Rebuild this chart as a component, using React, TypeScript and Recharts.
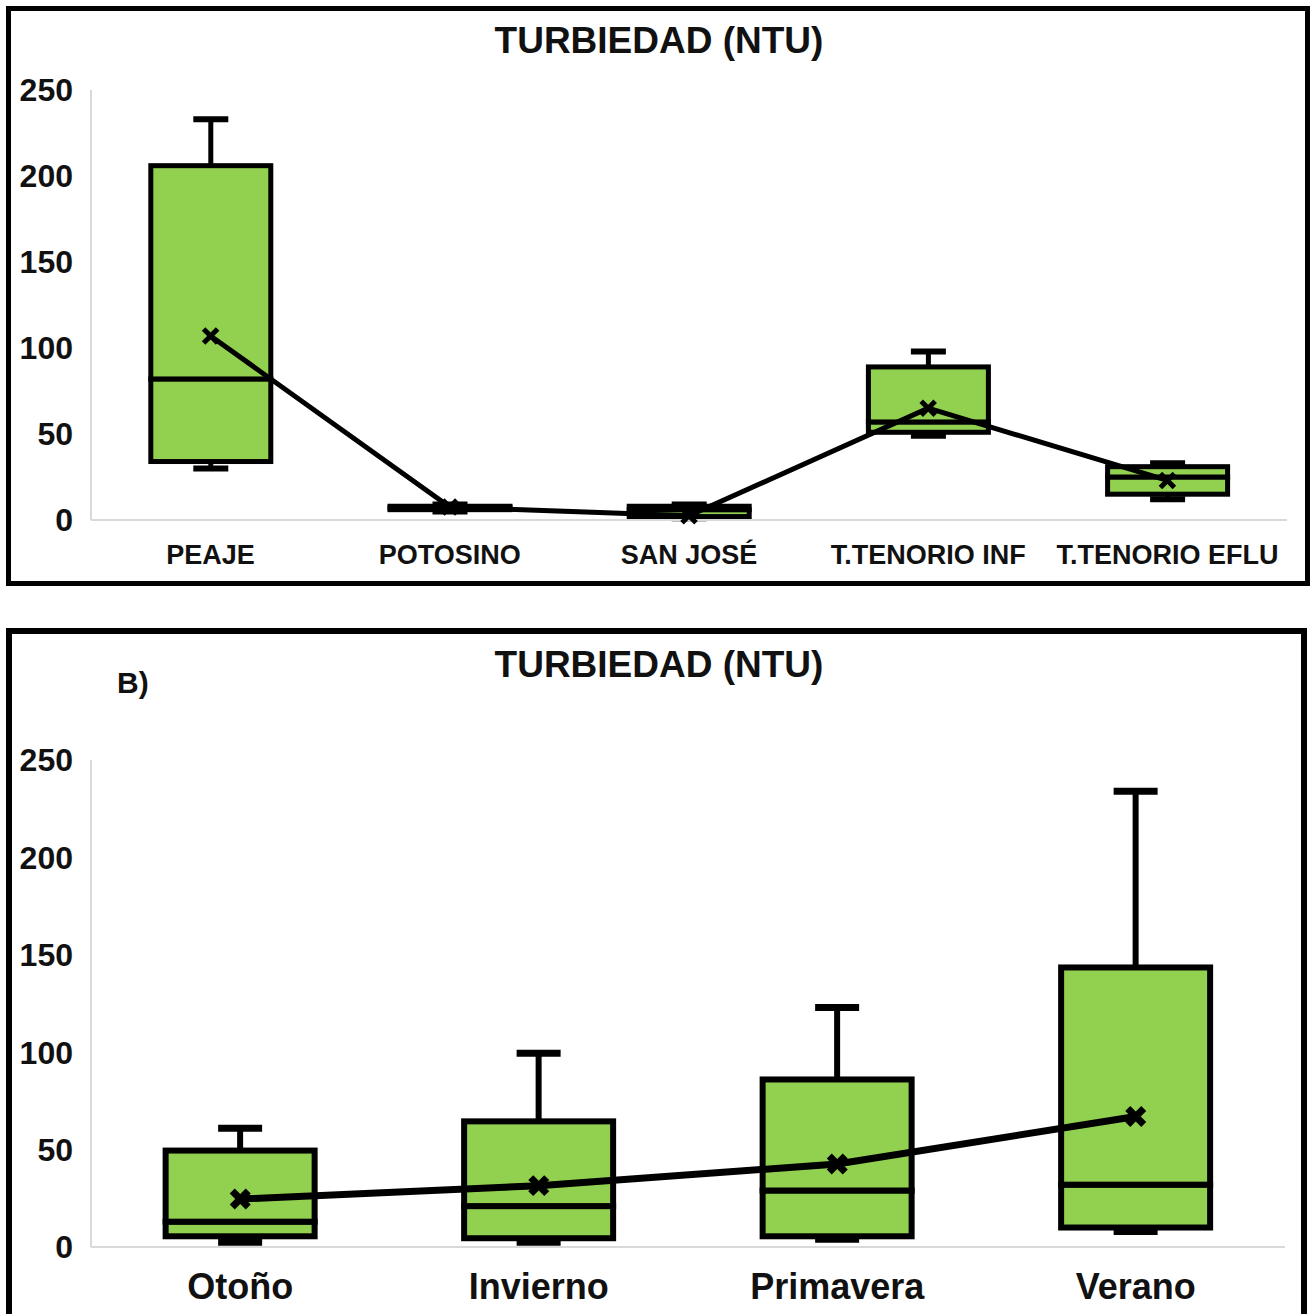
import React from 'react';
import { ComposedChart, Bar, Line, XAxis, YAxis } from 'recharts';

// Panel A: sitios de muestreo
const sitios = ['PEAJE', 'POTOSINO', 'SAN JOSÉ', 'T.TENORIO INF', 'T.TENORIO EFLU'];
const sitiosMin = [30, 5, 1, 49, 12];
const sitiosQ1 = [34, 6, 2, 51, 15];
const sitiosMediana = [82, 7, 6, 57, 25];
const sitiosQ3 = [206, 8, 8, 89, 31];
const sitiosMax = [233, 9, 9, 98, 33];
const sitiosMedia = [107, 7.5, 2.5, 65, 23];

// Panel B: estaciones
const estaciones = ['Otoño', 'Invierno', 'Primavera', 'Verano'];
const estMin = [2.5, 2.5, 4, 8];
const estQ1 = [5.5, 4.5, 5.5, 10];
const estMediana = [13, 21, 29, 32];
const estQ3 = [49.5, 64.5, 86, 143.5];
const estMax = [61, 99.5, 123, 234];
const estMedia = [24.6, 31.5, 42.6, 67];

const yTicks = [0, 50, 100, 150, 200, 250];

const GREEN = '#92D050';
const FONT = '"Liberation Sans", Arial, sans-serif';

const buildRows = (
  cats: string[], mn: number[], q1: number[], med: number[], q3: number[], mx: number[], mean: number[]
) =>
  cats.map((c, i) => ({
    cat: c,
    base: mn[i],
    lw: q1[i] - mn[i],
    b1: med[i] - q1[i],
    b2: q3[i] - med[i],
    uw: mx[i] - q3[i],
    mean: mean[i],
  }));

const sitiosData = buildRows(sitios, sitiosMin, sitiosQ1, sitiosMediana, sitiosQ3, sitiosMax, sitiosMedia);
const estData = buildRows(estaciones, estMin, estQ1, estMediana, estQ3, estMax, estMedia);

const whisker = (pos: 'low' | 'high', sw: number, capW: number) => (props: any) => {
  const { x, y, width, height } = props;
  const cx = x + width / 2;
  const capY = pos === 'high' ? y : y + height;
  return (
    <g>
      <line x1={cx} x2={cx} y1={y} y2={y + height} stroke="#000" strokeWidth={sw} />
      <line x1={cx - capW / 2} x2={cx + capW / 2} y1={capY} y2={capY} stroke="#000" strokeWidth={sw + 1} />
    </g>
  );
};

const boxPart = (sw: number) => (props: any) => {
  const { x, y, width, height } = props;
  return <rect x={x} y={y} width={width} height={height} fill={GREEN} stroke="#000" strokeWidth={sw} />;
};

const cross = (size: number, sw: number) => (props: any) => {
  const { cx, cy, index } = props;
  return (
    <g key={`m-${index}`}>
      <line x1={cx - size} y1={cy - size} x2={cx + size} y2={cy + size} stroke="#000" strokeWidth={sw} />
      <line x1={cx - size} y1={cy + size} x2={cx + size} y2={cy - size} stroke="#000" strokeWidth={sw} />
    </g>
  );
};

interface PanelProps {
  data: any[];
  width: number;
  height: number;
  margin: { top: number; right: number; bottom: number; left: number };
  yWidth: number;
  xHeight: number;
  xFont: number;
  xOffset: number;
  sw: number;
  lineW: number;
  capW: number;
  markSize: number;
  markW: number;
}

const BoxPanel: React.FC<PanelProps> = ({ data, width, height, margin, yWidth, xHeight, xFont, xOffset, sw, lineW, capW, markSize, markW }) => (
  <ComposedChart width={width} height={height} data={data} margin={margin} barCategoryGap="25%">
    <XAxis
      dataKey="cat"
      interval={0}
      height={xHeight}
      tickLine={false}
      tickSize={xOffset}
      tickMargin={0}
      axisLine={{ stroke: '#d9d9d9', strokeWidth: 2 }}
      tick={{ fill: '#111', fontSize: xFont, fontWeight: 700, fontFamily: FONT }}
    />
    <YAxis
      domain={[0, 250]}
      ticks={yTicks}
      width={yWidth}
      tickLine={false}
      tickSize={16}
      tickMargin={2}
      axisLine={{ stroke: '#d9d9d9', strokeWidth: 2 }}
      tick={{ fill: '#111', fontSize: 32, fontWeight: 700, fontFamily: FONT }}
    />
    <Bar dataKey="base" stackId="s" fill="transparent" isAnimationActive={false} shape={() => <g />} />
    <Bar dataKey="lw" stackId="s" isAnimationActive={false} shape={whisker('low', sw, capW)} />
    <Bar dataKey="b1" stackId="s" isAnimationActive={false} shape={boxPart(sw)} />
    <Bar dataKey="b2" stackId="s" isAnimationActive={false} shape={boxPart(sw)} />
    <Bar dataKey="uw" stackId="s" isAnimationActive={false} shape={whisker('high', sw, capW)} />
    <Line
      type="linear"
      dataKey="mean"
      stroke="#000"
      strokeWidth={lineW}
      dot={cross(markSize, markW)}
      activeDot={false}
      isAnimationActive={false}
    />
  </ComposedChart>
);

const titleStyle: React.CSSProperties = {
  position: 'absolute',
  left: 0,
  width: 1318,
  textAlign: 'center',
  fontFamily: FONT,
  fontWeight: 700,
  fontSize: 37,
  lineHeight: 1,
  color: '#111',
};

export default function App() {
  return (
    <div style={{ position: 'absolute', left: 0, top: 0, width: 1312, height: 1314, background: '#fff', overflow: 'hidden' }}>
      {/* Panel A */}
      <div style={{ position: 'absolute', left: 6, top: 6, width: 1304, height: 580, border: '5px solid #000', boxSizing: 'border-box' }}>
        <BoxPanel
          data={sitiosData}
          width={1294}
          height={570}
          margin={{ top: 79, right: 18, bottom: 21, left: 0 }}
          yWidth={80}
          xHeight={40}
          xFont={27}
          xOffset={25}
          sw={5}
          lineW={5}
          capW={35}
          markSize={7}
          markW={5}
        />
      </div>
      <div style={{ ...titleStyle, top: 22 }}>TURBIEDAD (NTU)</div>

      {/* Panel B */}
      <div style={{ position: 'absolute', left: 6, top: 628, width: 1301, height: 700, border: '6px solid #000', boxSizing: 'border-box' }}>
        <BoxPanel
          data={estData}
          width={1289}
          height={680}
          margin={{ top: 126, right: 16, bottom: 17, left: 0 }}
          yWidth={79}
          xHeight={50}
          xFont={36}
          xOffset={26}
          sw={6}
          lineW={7}
          capW={44}
          markSize={8}
          markW={7}
        />
      </div>
      <div style={{ ...titleStyle, top: 646 }}>TURBIEDAD (NTU)</div>
      <div style={{ position: 'absolute', left: 117, top: 668, fontFamily: FONT, fontWeight: 700, fontSize: 30, lineHeight: 1, color: '#111' }}>
        B)
      </div>
    </div>
  );
}
